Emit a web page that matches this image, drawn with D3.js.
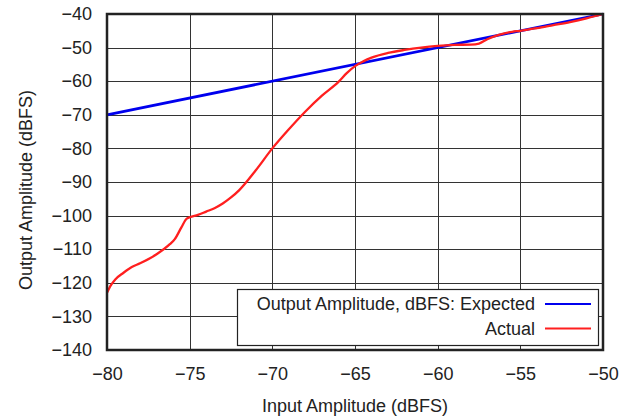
<!DOCTYPE html>
<html><head><meta charset="utf-8">
<script src="https://cdn.jsdelivr.net/npm/d3@7"></script>
<style>body{margin:0;background:#fff}svg{display:block}text{font-family:"Liberation Sans",Arial,sans-serif;fill:#222}</style>
</head><body><svg id="c" width="634" height="417"></svg>
<script>
const xTicks = [-80,-75,-70,-65,-60,-55,-50];
const yTicks = [-40,-50,-60,-70,-80,-90,-100,-110,-120,-130,-140];
const expectedX = [-80,-50];
const expectedY = [-70,-40];
const actualX = [-80,-79.8,-79.5,-79,-78.5,-78,-77,-76.2,-75.9,-75.5,-75.2,-75,-74.5,-74,-73.5,-73,-72.5,-72,-71,-70,-69,-68,-67,-66,-65.5,-65,-64.5,-64,-63,-62,-61,-60,-59,-58,-57.5,-57,-56.3,-55.5,-55,-54,-53,-52,-51,-50];
const actualY = [-123,-121,-119,-117,-115.3,-114.2,-111.5,-108.5,-107,-103.5,-101,-100.5,-99.8,-98.8,-97.8,-96.4,-94.6,-92.4,-86.5,-80,-74.3,-69,-64.3,-60.2,-57.6,-55.5,-54.1,-53,-51.6,-50.7,-50,-49.5,-49.2,-49.1,-48.8,-47.5,-46.2,-45.3,-45,-44.2,-43.3,-42.4,-41.3,-40];
const legendLabels = ["Output Amplitude, dBFS: Expected","Actual"];
const colors = ["#0000ee","#ff1f1f"];

const FS = 18;
const svg = d3.select("#c");
const L=107,R=603,T=14,B=350;
const x = d3.scaleLinear().domain([-80,-50]).range([L,R]);
const y = d3.scaleLinear().domain([-140,-40]).range([B,T]);
const fmt = d => d<0 ? "\u2212"+Math.abs(d) : String(d);

// grid
svg.append("g").selectAll("line").data(xTicks.slice(1,-1)).join("line")
 .attr("x1",d=>Math.round(x(d))+0.5).attr("x2",d=>Math.round(x(d))+0.5).attr("y1",T).attr("y2",B)
 .attr("stroke","#333").attr("stroke-width",1);
svg.append("g").selectAll("line").data(yTicks.slice(1,-1)).join("line")
 .attr("y1",d=>Math.round(y(d))+0.5).attr("y2",d=>Math.round(y(d))+0.5).attr("x1",L).attr("x2",R)
 .attr("stroke","#333").attr("stroke-width",1);

// axes labels via d3 axes
const xAxis = svg.append("g").attr("transform",`translate(0,${B})`)
 .call(d3.axisBottom(x).tickValues(xTicks).tickFormat(fmt).tickSize(0).tickPadding(17));
const yAxis = svg.append("g").attr("transform",`translate(${L},0)`)
 .call(d3.axisLeft(y).tickValues(yTicks).tickFormat(fmt).tickSize(0).tickPadding(15));
[xAxis,yAxis].forEach(a=>{a.select(".domain").remove();a.selectAll("text").attr("font-size",FS).attr("fill","#222").attr("font-family","Liberation Sans, Arial, sans-serif");});

// legend box
const lg = svg.append("g");
lg.append("rect").attr("x",237.5).attr("y",289.5).attr("width",361).attr("height",56)
 .attr("fill","#fff").attr("stroke","#222").attr("stroke-width",1.2);
legendLabels.forEach((t,i)=>{
  const yy = 304 + i*24.5;
  lg.append("text").attr("x",535).attr("y",yy).attr("dy","0.35em").attr("text-anchor","end")
    .attr("font-size",FS).text(t);
  lg.append("line").attr("x1",545).attr("x2",591).attr("y1",yy).attr("y2",yy)
    .attr("stroke",colors[i]).attr("stroke-width",2.2);
});

// lines
const line = d3.line().x(d=>x(d[0])).y(d=>y(d[1]));
svg.append("clipPath").attr("id","cp").append("rect").attr("x",L).attr("y",T-2).attr("width",R-L+2).attr("height",B-T+4);
svg.append("path").datum(d3.zip(expectedX,expectedY)).attr("d",line)
 .attr("fill","none").attr("stroke",colors[0]).attr("stroke-width",2.8);
svg.append("path").datum(d3.zip(actualX,actualY)).attr("d",line.curve(d3.curveMonotoneX))
 .attr("fill","none").attr("stroke",colors[1]).attr("stroke-width",2.3).attr("clip-path","url(#cp)");

// frame
svg.append("rect").attr("x",L).attr("y",T).attr("width",R-L).attr("height",B-T)
 .attr("fill","none").attr("stroke","#222").attr("stroke-width",2.5);

// titles
svg.append("text").attr("x",(L+R)/2).attr("y",406).attr("dy","0.35em").attr("text-anchor","middle")
 .attr("font-size",FS).text("Input Amplitude (dBFS)");
svg.append("text").attr("transform",`translate(26,190) rotate(-90)`).attr("dy","0.35em")
 .attr("text-anchor","middle").attr("font-size",FS).text("Output Amplitude (dBFS)");
</script></body></html>
